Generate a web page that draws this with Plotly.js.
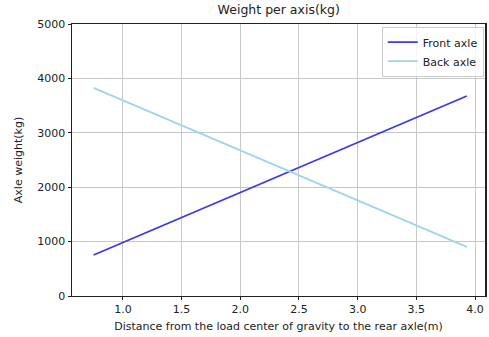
<!DOCTYPE html>
<html><head><meta charset="utf-8">
<script src="https://cdn.plot.ly/plotly-3.0.1.min.js"></script>
<style>html,body{margin:0;padding:0;background:#fff}#c{width:489px;height:337px}</style>
</head><body><div id="c"></div>
<script>
const distance = [0.75, 3.93];
const frontAxle = [754, 3676];
const backAxle = [3826, 904];
const xTicks = [1.0, 1.5, 2.0, 2.5, 3.0, 3.5, 4.0];
const xTickLabels = ["1.0","1.5","2.0","2.5","3.0","3.5","4.0"];
const yTicks = [0, 1000, 2000, 3000, 4000, 5000];

const font = "DejaVu Sans, sans-serif";
const data = [
  {x: distance, y: frontAxle, mode: "lines", name: "Front axle", line: {color: "#3a3ae6", width: 1.8}},
  {x: distance, y: backAxle, mode: "lines", name: "Back axle", line: {color: "#9fd6e4", width: 1.8}}
];
const layout = {
  width: 489, height: 337,
  margin: {l: 72, r: 4, t: 24, b: 41},
  paper_bgcolor: "#fff", plot_bgcolor: "#fff",
  font: {family: font, size: 11, color: "#222"},
  title: {text: "Weight per axis(kg)", x: 0.57, xanchor: "center", y: 0.985, yanchor: "top", font: {family: font, size: 12.5, color: "#222"}},
  xaxis: {range: [0.566, 4.085], tickvals: xTicks, ticktext: xTickLabels, showgrid: true, gridcolor: "#c8c8c8", gridwidth: 1,
          zeroline: false, showline: true, linecolor: "#222", linewidth: 1, mirror: true, ticks: "outside", ticklen: 3, tickcolor: "#222",
          title: {text: "Distance from the load center of gravity to the rear axle(m)", font: {family: font, size: 11}, standoff: 7}},
  yaxis: {range: [0, 5000], tickvals: yTicks, showgrid: true, gridcolor: "#c8c8c8", gridwidth: 1,
          zeroline: false, showline: true, linecolor: "#222", linewidth: 1.5, mirror: true, ticks: "outside", ticklen: 3, tickcolor: "#222",
          title: {text: "Axle weight(kg)", font: {family: font, size: 11}, standoff: 12}},
  showlegend: true,
  legend: {x: 0.997, y: 0.99, xanchor: "right", yanchor: "top", bgcolor: "rgba(255,255,255,0.8)", bordercolor: "#ccc", borderwidth: 1,
           font: {family: font, size: 11}, tracegroupgap: 0}
};
Plotly.newPlot("c", data, layout, {displayModeBar: false, staticPlot: true});
</script></body></html>
